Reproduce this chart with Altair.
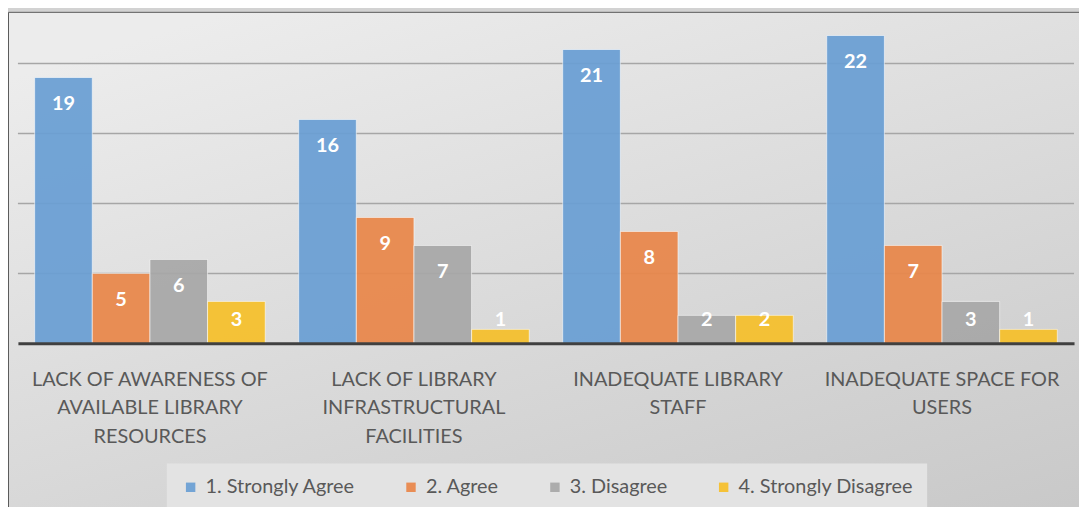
import altair as alt
import pandas as pd

categories = [
    "LACK OF AWARENESS OF|AVAILABLE LIBRARY|RESOURCES",
    "LACK OF LIBRARY|INFRASTRUCTURAL|FACILITIES",
    "INADEQUATE LIBRARY|STAFF",
    "INADEQUATE SPACE FOR|USERS",
]
series = ["1. Strongly Agree", "2. Agree", "3. Disagree", "4. Strongly Disagree"]
strongly_agree = [19, 16, 21, 22]
agree = [5, 9, 8, 7]
disagree = [6, 7, 2, 3]
strongly_disagree = [3, 1, 2, 1]
colors = ["#6A9FD4", "#E9874A", "#A8A8A8", "#F6C02B"]
gridlines = [5, 10, 15, 20]

rows = []
for s, vals in zip(series, [strongly_agree, agree, disagree, strongly_disagree]):
    for c, v in zip(categories, vals):
        rows.append({"category": c, "series": s, "value": v, "base": 0})
df = pd.DataFrame(rows)

W, H = 1064, 332
FONT = "Lato"

yscale = alt.Scale(domain=[0, 23.55], nice=False, zero=True)

x_enc = alt.X(
    "category:N",
    sort=categories,
    scale=alt.Scale(paddingInner=0, paddingOuter=0),
    axis=alt.Axis(
        title=None,
        labelExpr="split(datum.label, '|')",
        labelAngle=0,
        labelFont=FONT,
        labelFontSize=20,
        labelColor="#595959",
        labelLineHeight=29,
        labelPadding=26,
        labelLimit=400,
        ticks=False,
        tickSize=0,
        domainColor="#404040",
        domainWidth=3,
        zindex=1,
    ),
)
xoff = alt.XOffset("series:N", sort=series, scale=alt.Scale(paddingOuter=0.29, paddingInner=0))

bg = alt.Chart(pd.DataFrame({"a": [0]})).mark_rect(
    fill=alt.Gradient(
        gradient="linear",
        stops=[
            alt.GradientStop(color="#ECECEC", offset=0),
            alt.GradientStop(color="#C9C9C9", offset=1),
        ],
        x1=0.2, y1=0, x2=0.8, y2=1,
    ),
    stroke="#5A5A5A",
    strokeWidth=1,
).encode(
    x=alt.value(-9.5), x2=alt.value(W + 30),
    y=alt.value(-1.5), y2=alt.value(H + 220),
)

grid = alt.Chart(pd.DataFrame({"v": gridlines})).mark_rule(
    color="#A6A6A6", strokeWidth=1.5
).encode(y=alt.Y("v:Q", scale=yscale, axis=None))

bars = alt.Chart(df).mark_bar(
    stroke="#FFFFFF", strokeOpacity=0.6, strokeWidth=1, opacity=0.93
).encode(
    x=x_enc,
    xOffset=xoff,
    y=alt.Y("value:Q", scale=yscale, axis=None),
    color=alt.Color(
        "series:N",
        sort=series,
        scale=alt.Scale(domain=series, range=colors),
        legend=alt.Legend(
            title=None,
            orient="none",
            legendX=150,
            legendY=453,
            direction="horizontal",
            fillColor="#E3E3E3",
            padding=14,
            symbolType="square",
            symbolSize=90,
            symbolStrokeWidth=0,
            labelFont=FONT,
            labelFontSize=20,
            labelColor="#595959",
            labelOffset=5,
            columnPadding=46,
            labelLimit=400,
        ),
    ),
)

label_hi = alt.Chart(df).transform_filter("datum.value >= 4").mark_text(
    font=FONT, fontSize=20, fontWeight="bold", color="white", dy=27
).encode(
    x=x_enc, xOffset=xoff,
    y=alt.Y("value:Q", scale=yscale, axis=None),
    text="value:Q",
)

label_lo = alt.Chart(df).transform_filter("datum.value < 4").mark_text(
    font=FONT, fontSize=20, fontWeight="bold", color="white", dy=-23
).encode(
    x=x_enc, xOffset=xoff,
    y=alt.Y("base:Q", scale=yscale, axis=None),
    text="value:Q",
)

chart = alt.layer(bg, grid, bars, label_hi, label_lo).properties(
    width=W,
    height=H,
    autosize=alt.AutoSizeParams(type="none"),
    padding={"left": 10, "top": 4, "right": 5, "bottom": 163},
    background="#D2D2D2",
).configure_view(stroke=None)

chart.save("out.html", embed_options={"renderer": "svg", "actions": False})
